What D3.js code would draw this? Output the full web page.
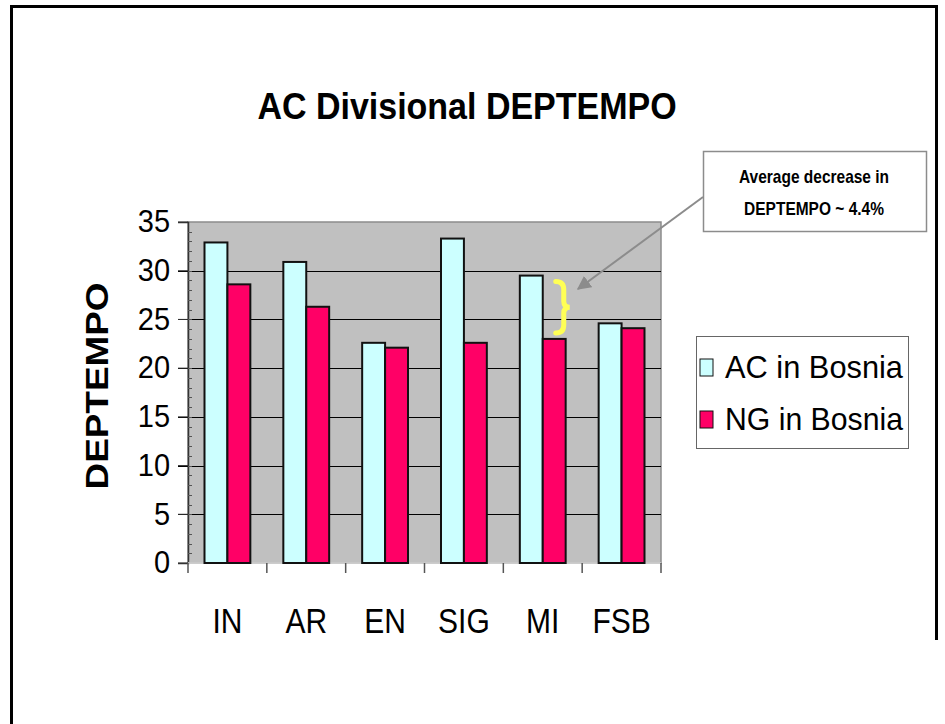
<!DOCTYPE html>
<html>
<head>
<meta charset="utf-8">
<script src="https://cdn.jsdelivr.net/npm/d3@7"></script>
<style>
  body { margin: 0; background: #fff; }
  text { font-family: "Liberation Sans", Arial, sans-serif; }
</style>
</head>
<body>
<svg id="chart" width="945" height="724"></svg>
<script>
// values
var categories = ["IN", "AR", "EN", "SIG", "MI", "FSB"];
var acValues = [32.9, 30.9, 22.6, 33.3, 29.5, 24.6];
var ngValues = [28.6, 26.3, 22.1, 22.6, 23.0, 24.1];
var seriesNames = ["AC in Bosnia", "NG in Bosnia"];
var seriesColors = ["#ccffff", "#ff0066"];
var yTicks = [0, 5, 10, 15, 20, 25, 30, 35];

var svg = d3.select("#chart"),
    plot = {left: 188, right: 661, top: 222, bottom: 563};

var x = d3.scaleBand().domain(categories).range([plot.left, plot.right]),
    x1 = d3.scaleBand().domain([0, 1]).range([0, x.bandwidth()]).paddingOuter(0.72),
    y = d3.scaleLinear().domain([0, 35]).range([plot.bottom, plot.top]);

// slide frame
svg.append("path")
    .attr("d", "M11.5,724 V6.5 H936.5 V640")
    .attr("fill", "none")
    .attr("stroke", "#000")
    .attr("stroke-width", 3);

// title
svg.append("text")
    .attr("transform", "translate(467,119) scale(1,1.06)")
    .attr("text-anchor", "middle")
    .attr("font-size", 34)
    .attr("font-weight", "bold")
    .text("AC Divisional DEPTEMPO");

// plot background
svg.append("rect")
    .attr("x", plot.left).attr("y", plot.top)
    .attr("width", plot.right - plot.left)
    .attr("height", plot.bottom - plot.top)
    .attr("fill", "#c0c0c0")
    .attr("stroke", "#8c8c8c")
    .attr("stroke-width", 1.5);

// gridlines + major ticks
svg.append("g").selectAll("line")
    .data(yTicks.filter(function(d) { return d > 0 && d < 35; }))
    .enter().append("line")
    .attr("x1", plot.left - 10).attr("x2", plot.right)
    .attr("y1", function(d) { return Math.round(y(d)) + 0.5; })
    .attr("y2", function(d) { return Math.round(y(d)) + 0.5; })
    .attr("stroke", "#000");

// y axis
var yAxis = svg.append("g")
    .attr("transform", "translate(" + plot.left + ",0)")
    .call(d3.axisLeft(y).tickValues(yTicks).tickSize(10).tickFormat(d3.format("d")));
yAxis.select(".domain").attr("stroke", "#333").attr("stroke-width", 1.5);
yAxis.selectAll(".tick line").attr("stroke", "#333");
yAxis.selectAll(".tick text")
    .attr("font-size", 29)
    .attr("x", -18)
    .attr("fill", "#000")
    .attr("transform", "scale(1,1.1)")
    .attr("font-family", "Liberation Sans, Arial, sans-serif");
// scale() would also shift the tick's y, so undo it per tick
yAxis.selectAll(".tick").each(function(d) {
    var t = d3.select(this);
    t.attr("transform", "translate(0," + y(d) + ")");
});

// minor ticks inside the plot
svg.append("g").selectAll("line")
    .data(d3.range(1, 35))
    .enter().append("line")
    .attr("x1", plot.left).attr("x2", plot.left + 4)
    .attr("y1", function(d) { return Math.round(y(d)) + 0.5; })
    .attr("y2", function(d) { return Math.round(y(d)) + 0.5; })
    .attr("stroke", "#555");

// x axis
var xAxis = svg.append("g")
    .attr("transform", "translate(0," + plot.bottom + ")");
xAxis.append("line")
    .attr("x1", plot.left).attr("x2", plot.right)
    .attr("stroke", "#d8d8d8").attr("stroke-width", 1.5);
xAxis.selectAll(".xt")
    .data(categories.concat(["end"]))
    .enter().append("line")
    .attr("class", "xt")
    .attr("x1", function(d) { return d == "end" ? plot.right : x(d); })
    .attr("x2", function(d) { return d == "end" ? plot.right : x(d); })
    .attr("y1", 0).attr("y2", 10)
    .attr("stroke", "#555").attr("stroke-width", 1.5);
xAxis.selectAll(".xl")
    .data(categories)
    .enter().append("text")
    .attr("class", "xl")
    .attr("text-anchor", "middle")
    .attr("font-size", 30)
    .attr("transform", function(d) {
        return "translate(" + (x(d) + x.bandwidth() / 2) + ",70) scale(1,1.17)";
    })
    .text(function(d) { return d; });

// bars
var groups = svg.append("g").selectAll("g")
    .data(categories)
    .enter().append("g")
    .attr("transform", function(d) { return "translate(" + x(d) + ",0)"; });

groups.selectAll("rect")
    .data(function(d, i) { return [acValues[i], ngValues[i]]; })
    .enter().append("rect")
    .attr("x", function(d, j) { return x1(j); })
    .attr("y", function(d) { return y(d); })
    .attr("width", x1.bandwidth())
    .attr("height", function(d) { return y(0) - y(d); })
    .attr("fill", function(d, j) { return seriesColors[j]; })
    .attr("stroke", "#111")
    .attr("stroke-width", 2);

// y axis title
svg.append("text")
    .attr("transform", "translate(108,386) rotate(-90)")
    .attr("text-anchor", "middle")
    .attr("font-size", 32)
    .attr("font-weight", "bold")
    .attr("textLength", 207)
    .attr("lengthAdjust", "spacingAndGlyphs")
    .text("DEPTEMPO");

// legend
var legend = svg.append("g");
legend.append("rect")
    .attr("x", 696.5).attr("y", 336.5)
    .attr("width", 212).attr("height", 112)
    .attr("fill", "#fff")
    .attr("stroke", "#666");
var items = legend.selectAll(".item")
    .data(seriesNames)
    .enter().append("g")
    .attr("class", "item")
    .attr("transform", function(d, i) { return "translate(0," + (368 + i * 52) + ")"; });
items.append("rect")
    .attr("x", 700).attr("y", -9)
    .attr("width", 13).attr("height", 17)
    .attr("fill", function(d, i) { return seriesColors[i]; })
    .attr("stroke", "#111");
items.append("text")
    .attr("transform", "translate(725,10) scale(1,1.08)")
    .attr("font-size", 29)
    .attr("textLength", 178)
    .attr("lengthAdjust", "spacingAndGlyphs")
    .text(function(d) { return d; });

// annotation box
svg.append("rect")
    .attr("x", 703.5).attr("y", 151.5)
    .attr("width", 223).attr("height", 80)
    .attr("fill", "#fff")
    .attr("stroke", "#8c8c8c")
    .attr("stroke-width", 1.5);
svg.append("text")
    .attr("transform", "translate(814,183) scale(1,1.15)")
    .attr("text-anchor", "middle")
    .attr("font-size", 15.5)
    .attr("font-weight", "bold")
    .text("Average decrease in");
svg.append("text")
    .attr("transform", "translate(814,215) scale(1,1.15)")
    .attr("text-anchor", "middle")
    .attr("font-size", 15.5)
    .attr("font-weight", "bold")
    .text("DEPTEMPO ~ 4.4%");

// arrow from box to the MI gap
svg.append("defs").append("marker")
    .attr("id", "head")
    .attr("viewBox", "0 0 10 10")
    .attr("refX", 9).attr("refY", 5)
    .attr("markerWidth", 7).attr("markerHeight", 7)
    .attr("markerUnits", "strokeWidth")
    .attr("orient", "auto")
  .append("path")
    .attr("d", "M0,0 L10,5 L0,10 z")
    .attr("fill", "#8c8c8c");
svg.append("line")
    .attr("x1", 703).attr("y1", 197)
    .attr("x2", 578).attr("y2", 289)
    .attr("stroke", "#8c8c8c")
    .attr("stroke-width", 2)
    .attr("marker-end", "url(#head)");

// yellow brace between MI bars
var bx = x("MI") + x1(1) + 13,
    bTop = y(acValues[4]) + 6,
    bBot = y(ngValues[4]) - 6,
    bMid = (bTop + bBot) / 2;
svg.append("path")
    .attr("d", "M" + bx + "," + bTop +
        " Q" + (bx + 8) + "," + bTop + " " + (bx + 8) + "," + (bTop + 8) +
        " L" + (bx + 8) + "," + (bMid - 6) +
        " Q" + (bx + 8) + "," + bMid + " " + (bx + 14) + "," + bMid +
        " Q" + (bx + 8) + "," + bMid + " " + (bx + 8) + "," + (bMid + 6) +
        " L" + (bx + 8) + "," + (bBot - 8) +
        " Q" + (bx + 8) + "," + bBot + " " + bx + "," + bBot)
    .attr("fill", "none")
    .attr("stroke", "#ffff55")
    .attr("stroke-width", 5)
    .attr("stroke-linecap", "round");
</script>
</body>
</html>
